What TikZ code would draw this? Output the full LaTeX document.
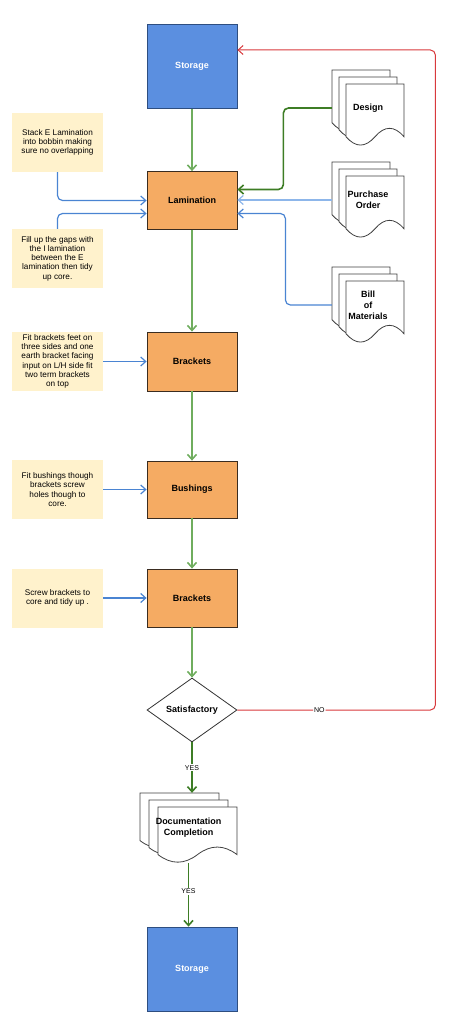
\documentclass[tikz,border=0pt]{standalone}
\usepackage{fontspec}
\setmainfont{Liberation Sans}
\usetikzlibrary{arrows.meta, shapes.geometric}

\definecolor{storeblue}{HTML}{5B8FE0}
\definecolor{storeline}{HTML}{2E4E80}
\definecolor{procfill}{HTML}{F5AB63}
\definecolor{procline}{HTML}{3A2C20}
\definecolor{notefill}{HTML}{FFF2CC}
\definecolor{flowgreen}{HTML}{6FAD5E}
\definecolor{yesgreen}{HTML}{3D7D25}
\definecolor{inblue}{HTML}{4A84D2}
\definecolor{poblue}{HTML}{8DB6EA}
\definecolor{nored}{HTML}{D8393C}

% one sheet of a document stack: x, y (top left), width, height
\newcommand{\docpage}[4]{%
  \filldraw[draw=black!75, fill=white, line width=0.8pt] (#1,#2) -- ({#1+#3},#2) -- ({#1+#3},{#2+0.85*#4})
    .. controls ({#1+0.833*#3},{#2+0.67*#4}) and ({#1+0.667*#3},{#2+0.67*#4}) .. ({#1+0.5*#3},{#2+0.85*#4})
    .. controls ({#1+0.333*#3},{#2+1.03*#4}) and ({#1+0.167*#3},{#2+1.03*#4}) .. (#1,{#2+0.85*#4}) -- cycle;}
% name, x, y, sheet width, sheet height, dx, dy, text
\newcommand{\docstack}[8]{%
  \docpage{#2}{#3}{#4}{#5}
  \docpage{#2+#6}{#3+#7}{#4}{#5}
  \docpage{#2+2*#6}{#3+2*#7}{#4}{#5}
  \pgfmathsetmacro{\stackw}{#4+2*#6}
  \pgfmathsetmacro{\stackh}{#5+2*#7}
  \node[doc, minimum width=\stackw, minimum height=\stackh] (#1) at ({#2+#6+0.5*#4},{#3+#7+0.5*#5}) {#8};}

\begin{document}
\begin{tikzpicture}[x=1pt, y=-1pt, >={Straight Barb[length=5pt,width=9pt]},
  store/.style={draw=storeline, fill=storeblue, line width=0.8pt, minimum width=90, minimum height=84, inner sep=0pt, text=white, font=\fontsize{9}{11}\selectfont\bfseries},
  proc/.style={draw=procline, fill=procfill, line width=0.8pt, minimum width=90, minimum height=58, inner sep=0pt, font=\fontsize{9}{11}\selectfont\bfseries},
  note/.style={fill=notefill, minimum width=91, minimum height=59, inner sep=0pt, align=center, font=\fontsize{8.2}{9.3}\selectfont},
  doc/.style={inner sep=0pt, align=center, font=\fontsize{9}{10.8}\selectfont\bfseries},
  check/.style={diamond, draw=black!80, fill=white, line width=0.8pt, minimum width=90, minimum height=64, inner sep=0pt, font=\fontsize{9}{11}\selectfont\bfseries},
  flow/.style={->, draw=flowgreen, line width=1.6pt},
  yes/.style={->, draw=yesgreen, line width=1.6pt},
  feed/.style={->, draw=inblue, line width=1.2pt, rounded corners=5pt},
  lbl/.style={fill=white, inner sep=1pt, font=\fontsize{7}{8}\selectfont}]
\useasboundingbox (0,0) rectangle (451,1024);

\node[store] (st1) at (192,66.5) {Storage};
\node[proc] (lam) at (192,200.5) {Lamination};
\node[proc, minimum height=59] (br1) at (192,361.5) {Brackets};
\node[proc, minimum height=57] (bush) at (192,489.5) {Bushings};
\node[proc] (br2) at (192,598) {Brackets};
\node[check] (sat) at (192,710) {Satisfactory};
\node[store] (st2) at (192,969) {Storage};

\node[note] (n1) at (57.5,142.5) {Stack E Lamination\\into bobbin making\\sure no overlapping};
\node[note] (n2) at (57.5,258.5) {Fill up the gaps with\\the I lamination\\between the E\\lamination then tidy\\up core.};
\node[note] (n3) at (57.5,361.5) {Fit brackets feet on\\three sides and one\\earth bracket facing\\input on L/H side fit\\two term brackets\\on top};
\node[note] (n4) at (57.5,489.5) {Fit bushings though\\brackets screw\\holes though to\\core.};
\node[note] (n5) at (57.5,598) {Screw brackets to\\core and tidy up .};

\docstack{design}{332}{70}{58}{62}{7}{7}{Design}
\docstack{po}{332}{162}{58}{62}{7}{7}{Purchase\\Order}
\docstack{bom}{332}{267}{58}{62}{7}{7}{Bill\\of\\Materials}
\docstack{dc}{140}{793}{79}{56}{9}{7}{Documentation\\Completion}

\draw[flow] (st1) -- (lam);
\draw[flow] (lam) -- (br1);
\draw[flow] (br1) -- (bush);
\draw[flow] (bush) -- (br2);
\draw[flow] (br2) -- (sat);

\draw[feed] (n1.south) |- (lam.west);
\draw[feed] (n2.north) |- ([yshift=-13pt]lam.west);
\draw[feed] (n3) -- (br1);
\draw[feed] (n4) -- (bush);
\draw[feed] (n5) -- (br2);

\draw[yes, rounded corners=5pt] (design.west) -| ([xshift=46pt,yshift=11pt]lam.east) -- ([yshift=11pt]lam.east);
\draw[feed, draw=poblue] (po.west) -- (po.west -| lam.east);
\draw[feed] (bom.west) -| ([xshift=48pt,yshift=-13pt]lam.east) -- ([yshift=-13pt]lam.east);

\draw[yes] (sat.south) -- (dc.north -| sat.south) node[lbl, pos=.5] (yes1) {YES};
\draw[yes] (dc.south) -- (dc.south |- st2.north) node[lbl, pos=.44] (yes2) {YES};
\draw[->, draw=nored, line width=1pt, rounded corners=5pt] (sat.east) -| ([xshift=198pt,yshift=16.5pt]st1.east) node[lbl, pos=.207] (no) {NO} -- ([yshift=16.5pt]st1.east);
\end{tikzpicture}
\end{document}
